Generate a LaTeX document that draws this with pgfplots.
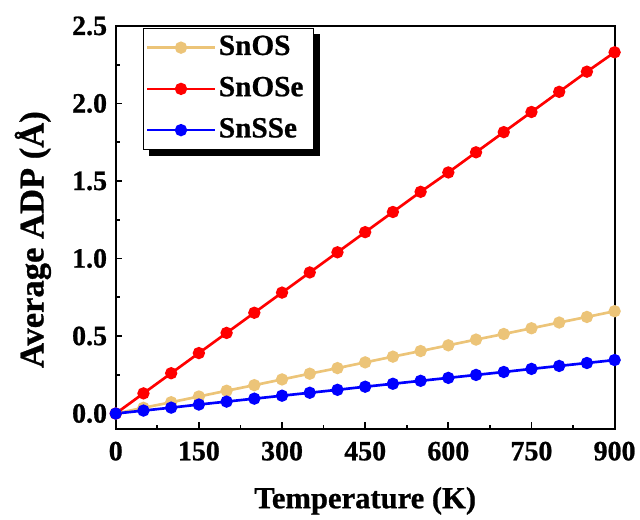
\documentclass[border=0pt]{standalone}
\usepackage{pgfplots}
\pgfplotsset{compat=1.18}
\usepackage{fontspec}
\setmainfont{Liberation Serif}[BoldFeatures={FakeBold=0.8}]
\usetikzlibrary{backgrounds}
\definecolor{cOS}{RGB}{236,196,120}
\definecolor{cOSe}{RGB}{255,0,0}
\definecolor{cSSe}{RGB}{0,0,255}
\begin{document}
\begin{tikzpicture}[x=1pt,y=1pt]
\begin{axis}[
  scale only axis,
  width=375pt, height=303pt,
  xmin=0, xmax=900, ymin=-0.1, ymax=2.5,
  xtick={0,150,...,900},
  ytick={0,0.5,...,2.5},
  minor x tick num=1, minor y tick num=1,
  xtick pos=left, ytick pos=left,
  tick align=inside,
  major tick length=5pt, minor tick length=3pt,
  every tick/.style={black, line width=1.3pt},
  axis line style={line width=1.6pt},
  /pgf/number format/assume math mode=true,
  /pgf/number format/.cd, fixed, fixed zerofill, precision=1, /pgfplots/.cd,
  xticklabels={0,150,300,450,600,750,900},
  ticklabel style={font=\fontsize{21}{23}\selectfont\bfseries},
  xticklabel style={yshift=-6pt},
  yticklabel style={xshift=-3pt},
  xlabel={Temperature (K)},
  ylabel={Average ADP (Å)},
  xlabel style={font=\fontsize{23}{26}\selectfont\bfseries, yshift=-13pt},
  ylabel style={font=\fontsize{26}{28}\selectfont\bfseries, at={(ticklabel cs:0.47)}, yshift=9pt},
  legend style={name=leg, at={(0.054,0.995)}, anchor=north west, draw=black, line width=0.6pt,
    font=\fontsize{22}{24}\selectfont\bfseries, row sep=6pt, inner sep=2pt,
    nodes={inner sep=2pt, text height=16pt, text depth=5pt},
    cells={anchor=west}},
  legend image code/.code={\draw[mark repeat=2, mark phase=2] plot coordinates {(0pt,0pt) (25.5pt,0pt) (51pt,0pt)};},
  every axis plot/.append style={line width=2pt, mark=*, mark size=3.6pt},
]
\addplot[color=cOS] coordinates {
(0,0) (50,0.037) (100,0.073) (150,0.11) (200,0.147) (250,0.183) (300,0.22) (350,0.257) (400,0.293) (450,0.33) (500,0.367) (550,0.403) (600,0.44) (650,0.477) (700,0.513) (750,0.55) (800,0.587) (850,0.623) (900,0.66)};
\addlegendentry{SnOS}
\addplot[color=cOSe] coordinates {
(0,0) (50,0.13) (100,0.26) (150,0.39) (200,0.52) (250,0.65) (300,0.78) (350,0.91) (400,1.04) (450,1.17) (500,1.30) (550,1.43) (600,1.555) (650,1.685) (700,1.815) (750,1.945) (800,2.075) (850,2.205) (900,2.33)};
\addlegendentry{SnOSe\rule{3.5pt}{0pt}}
\addplot[color=cSSe] coordinates {
(0,0) (50,0.019) (100,0.038) (150,0.058) (200,0.077) (250,0.096) (300,0.115) (350,0.134) (400,0.153) (450,0.173) (500,0.192) (550,0.211) (600,0.23) (650,0.249) (700,0.268) (750,0.288) (800,0.307) (850,0.326) (900,0.345)};
\addlegendentry{SnSSe}
\end{axis}
\begin{pgfonlayer}{background}
\fill[black] ([xshift=4.5pt,yshift=-4.5pt]leg.south west) rectangle ([xshift=4.5pt,yshift=-4.5pt]leg.north east);
\end{pgfonlayer}
\useasboundingbox (-87pt,-64.5pt) rectangle ++(480pt,387pt);
\end{tikzpicture}
\end{document}
